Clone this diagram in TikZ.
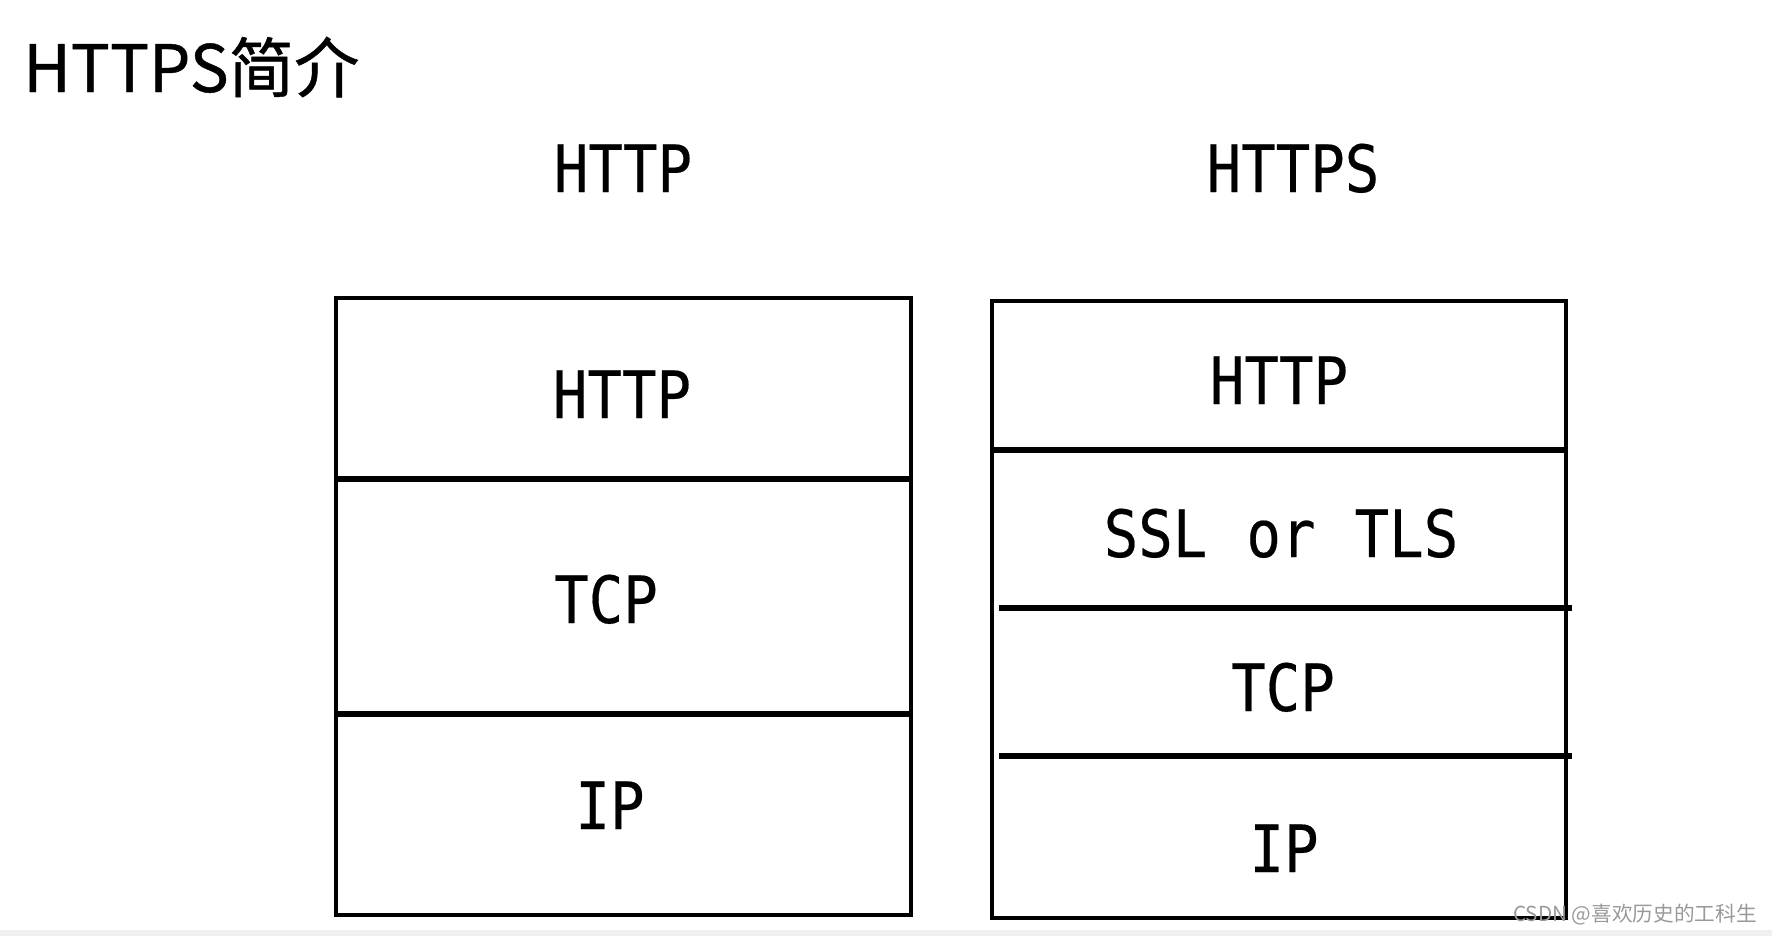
\documentclass[tikz,border=0pt]{standalone}
\usepackage{fontspec}
\newfontfamily\cjk{Noto Sans CJK SC}
\newfontfamily\cjktitle{Noto Sans CJK SC}[FakeBold=0.7]
\newfontfamily\labfont{DejaVu Sans Mono}[FakeStretch=0.88,FakeBold=0.3]
\begin{document}
\begin{tikzpicture}[x=0.75pt,y=-0.75pt,
  outline/.style={line width=2.6pt},
  divider/.style={line width=4.1pt},
  lab/.style={font=\labfont\fontsize{48.9}{50}\selectfont, anchor=base, inner sep=0pt},
  wm/.style={font=\cjk\fontsize{15.5}{17}\selectfont, text=black!40, anchor=base east, inner sep=0pt},
]
\useasboundingbox (0,0) rectangle (1772,936);
\fill[black!6] (0,930) rectangle (1772,936);
% title
\node[font=\cjktitle\fontsize{49}{52}\selectfont, anchor=base west, inner sep=0pt] (title) at (23,92) {HTTPS简介};
% headings
\node[lab] (hhttp) at (623,192) {HTTP};
\node[lab] (hhttps) at (1293,192) {HTTPS};
% left stack
\draw[outline] (336,298) rectangle (911,915);
\draw[divider] (336,479) -- (911,479);
\draw[divider] (336,714) -- (911,714);
\node[lab] (lhttp) at (622,418) {HTTP};
\node[lab] (ltcp) at (606,623) {TCP};
\node[lab] (lip) at (610,829) {IP};
% right stack
\draw[outline] (992,301) rectangle (1566,918);
\draw[divider] (992,450) -- (1566,450);
\draw[divider] (999,608) -- (1572,608);
\draw[divider] (999,756) -- (1572,756);
\node[lab] (rhttp) at (1279,404) {HTTP};
\node[lab] (rssl) at (1281,557) {SSL\hspace{0.07em} or\hspace{0.07em} TLS};
\node[lab] (rtcp) at (1283,711) {TCP};
\node[lab] (rip) at (1284,872) {IP};
% watermark
\node[wm] (mark) at (1757,921) {CSDN @喜欢历史的工科生};
\end{tikzpicture}
\end{document}
